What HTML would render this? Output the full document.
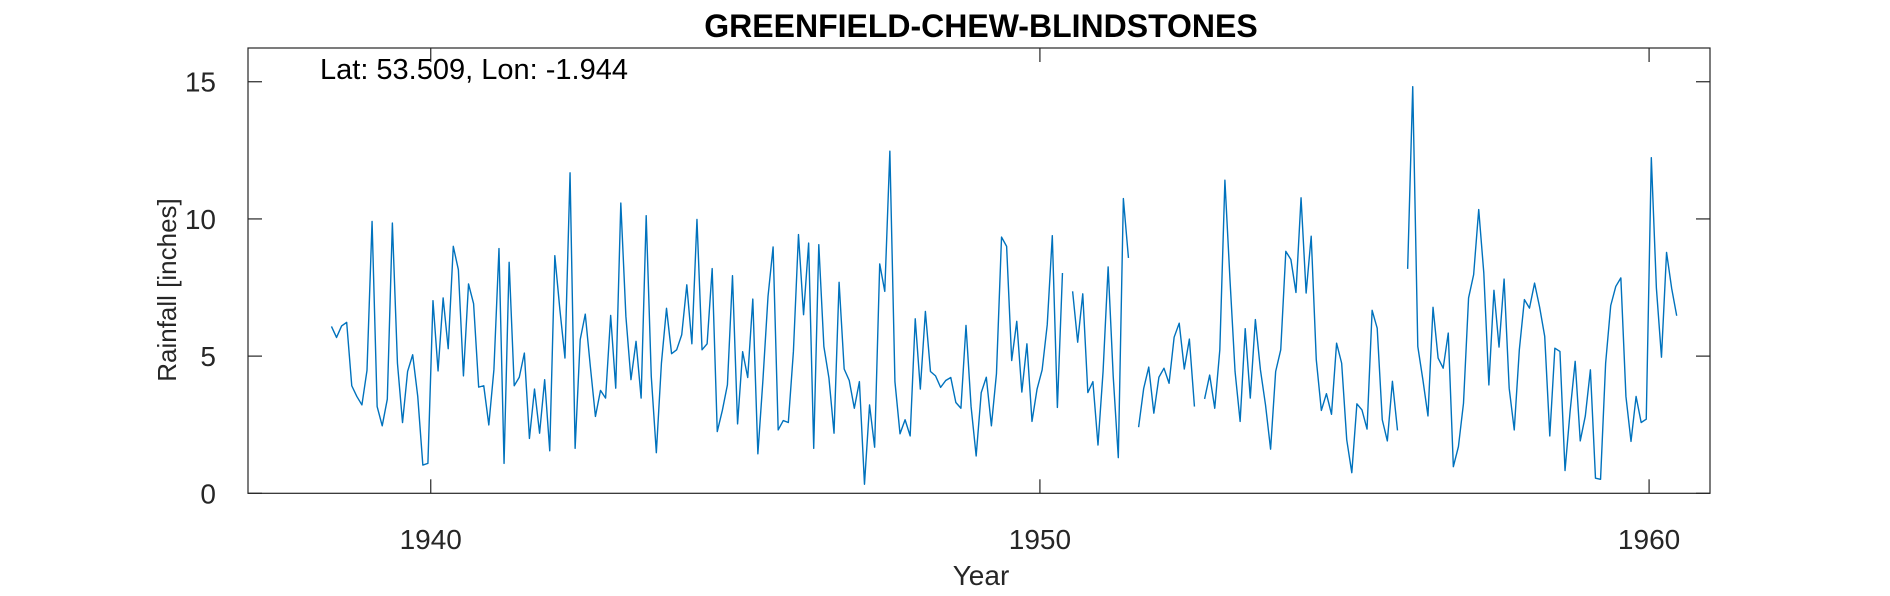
<!DOCTYPE html>
<html><head><meta charset="utf-8"><style>
html,body{margin:0;padding:0;background:#fff;}
svg text{font-family:"Liberation Sans",sans-serif;fill:#262626;}
</style></head><body>
<svg id="chart" width="1890" height="591" xmlns="http://www.w3.org/2000/svg">
<text x="981" y="37" text-anchor="middle" font-size="32" font-weight="bold" style="fill:#000">GREENFIELD-CHEW-BLINDSTONES</text>
<rect x="248" y="48" width="1462" height="445.3" fill="#fff" stroke="none"/>
<g id="ticks"></g>
<path id="line" fill="none" stroke="#0072BD" stroke-width="1.4" stroke-linejoin="round"/>
<rect x="248" y="48" width="1462" height="445.3" fill="none" stroke="#262626" stroke-width="1.2"/>
<text x="320" y="79" font-size="29" style="fill:#000">Lat: 53.509, Lon: -1.944</text>
<text transform="translate(176,290) rotate(-90)" text-anchor="middle" font-size="26">Rainfall [inches]</text>
<text x="981" y="585" text-anchor="middle" font-size="28">Year</text>
</svg>
<script>
const values = [6.08,5.68,6.1,6.23,3.92,3.53,3.22,4.48,9.91,3.16,2.46,3.43,9.85,4.74,2.58,4.44,5.05,3.53,1.03,1.09,7.02,4.46,7.12,5.27,9.0,8.15,4.28,7.63,6.91,3.87,3.92,2.49,4.5,8.92,1.09,8.42,3.92,4.23,5.11,2.0,
3.8,2.19,4.14,1.55,8.66,6.69,4.93,11.68,1.64,5.6,6.53,4.62,2.8,3.75,3.47,6.48,3.83,10.58,6.45,4.14,5.54,3.47,10.12,4.26,1.48,4.74,6.74,5.09,5.23,5.78,7.6,5.45,9.98,5.23,5.45,8.19,2.25,3.02,3.95,7.93,2.53,5.16,4.22,7.08,1.44,4.14,7.18,
8.98,2.31,2.65,2.58,5.17,9.43,6.51,9.12,1.64,9.06,5.35,4.2,2.19,7.69,4.53,4.11,3.1,4.07,0.33,3.22,1.68,8.36,7.36,12.47,4.07,2.17,2.68,2.09,6.36,3.8,6.63,4.44,4.28,3.86,4.11,4.22,3.31,3.1,6.12,3.16,1.36,3.67,4.23,2.46,4.36,9.34,9.0,
4.84,6.27,3.69,5.45,2.62,3.8,4.5,6.14,9.39,3.13,8.03,null,7.36,5.51,7.27,3.67,4.07,1.76,4.44,8.25,4.26,1.30,10.74,8.58,null,2.41,3.82,4.6,2.92,4.23,4.56,4.01,5.69,6.2,4.53,5.62,3.16,null,3.44,4.31,3.1,5.23,11.41,7.79,4.44,2.62,6.0,3.47,
6.33,4.5,3.22,1.61,4.44,5.23,8.82,8.52,7.32,10.77,7.3,9.37,4.87,3.02,3.63,2.88,5.47,4.74,1.95,0.75,3.26,3.04,2.34,6.67,6.02,2.68,1.91,4.08,2.29,null,8.18,14.82,5.35,4.14,2.82,6.78,4.93,4.56,5.84,0.97,1.7,3.28,7.12,7.97,10.34,8.03,3.95,
7.40,5.33,7.81,3.83,2.31,5.23,7.06,6.75,7.66,6.78,5.72,2.09,5.29,5.17,0.83,2.98,4.81,1.91,2.82,4.5,0.55,0.51,4.74,6.84,7.54,7.85,3.53,1.89,3.53,2.58,2.7,12.23,7.48,4.96,8.78,7.48,6.47];
const startYear = 1938.37;
const xTickValues = [1940,1950,1960];
const xTickLabels = ["1940","1950","1960"];
const yTickValues = [0,5,10,15];
const yTickLabels = ["0","5","10","15"];
const X0=248,X1=1710,Y0=493.3,Y1=48;
const xMin=1937,xMax=1961,yMin=0,yMax=16.23;
function xs(t){return X0+(t-xMin)/(xMax-xMin)*(X1-X0);}
function ys(v){return Y0-(v-yMin)/(yMax-yMin)*(Y0-Y1);}
let d="",pen=false;
values.forEach((v,i)=>{
  if(v===null){pen=false;return;}
  const x=xs(startYear+i/12).toFixed(2),y=ys(v).toFixed(2);
  d+=(pen?"L":"M")+x+","+y;pen=true;
});
document.getElementById('line').setAttribute('d',d);
const NS="http://www.w3.org/2000/svg",g=document.getElementById('ticks'),svg=document.getElementById('chart');
function mk(tag,attrs){const e=document.createElementNS(NS,tag);for(const k in attrs)e.setAttribute(k,attrs[k]);return e;}
xTickValues.forEach((t,i)=>{
  const x=xs(t);
  const a=mk('line',{x1:x,x2:x,y1:Y0,y2:Y0-14,stroke:'#262626','stroke-width':1.2});
  
  
  g.appendChild(a);
  const b=mk('line',{x1:x,x2:x,y1:Y1,y2:Y1+14,stroke:'#262626','stroke-width':1.2});
  
  
  g.appendChild(b);
  const tx=mk('text',{x:x,y:549,'text-anchor':'middle','font-size':28});
  
  
  tx.textContent=xTickLabels[i];svg.appendChild(tx);
});
yTickValues.forEach((v,i)=>{
  const y=ys(v);
  const a=mk('line',{x1:X0,x2:X0+14,y1:y,y2:y,stroke:'#262626','stroke-width':1.2});
  
  
  g.appendChild(a);
  const b=mk('line',{x1:X1,x2:X1-14,y1:y,y2:y,stroke:'#262626','stroke-width':1.2});
  
  
  g.appendChild(b);
  const tx=mk('text',{x:216,y:y+10,'text-anchor':'end','font-size':28});
  
  
  tx.textContent=yTickLabels[i];svg.appendChild(tx);
});
</script>
</body></html>
